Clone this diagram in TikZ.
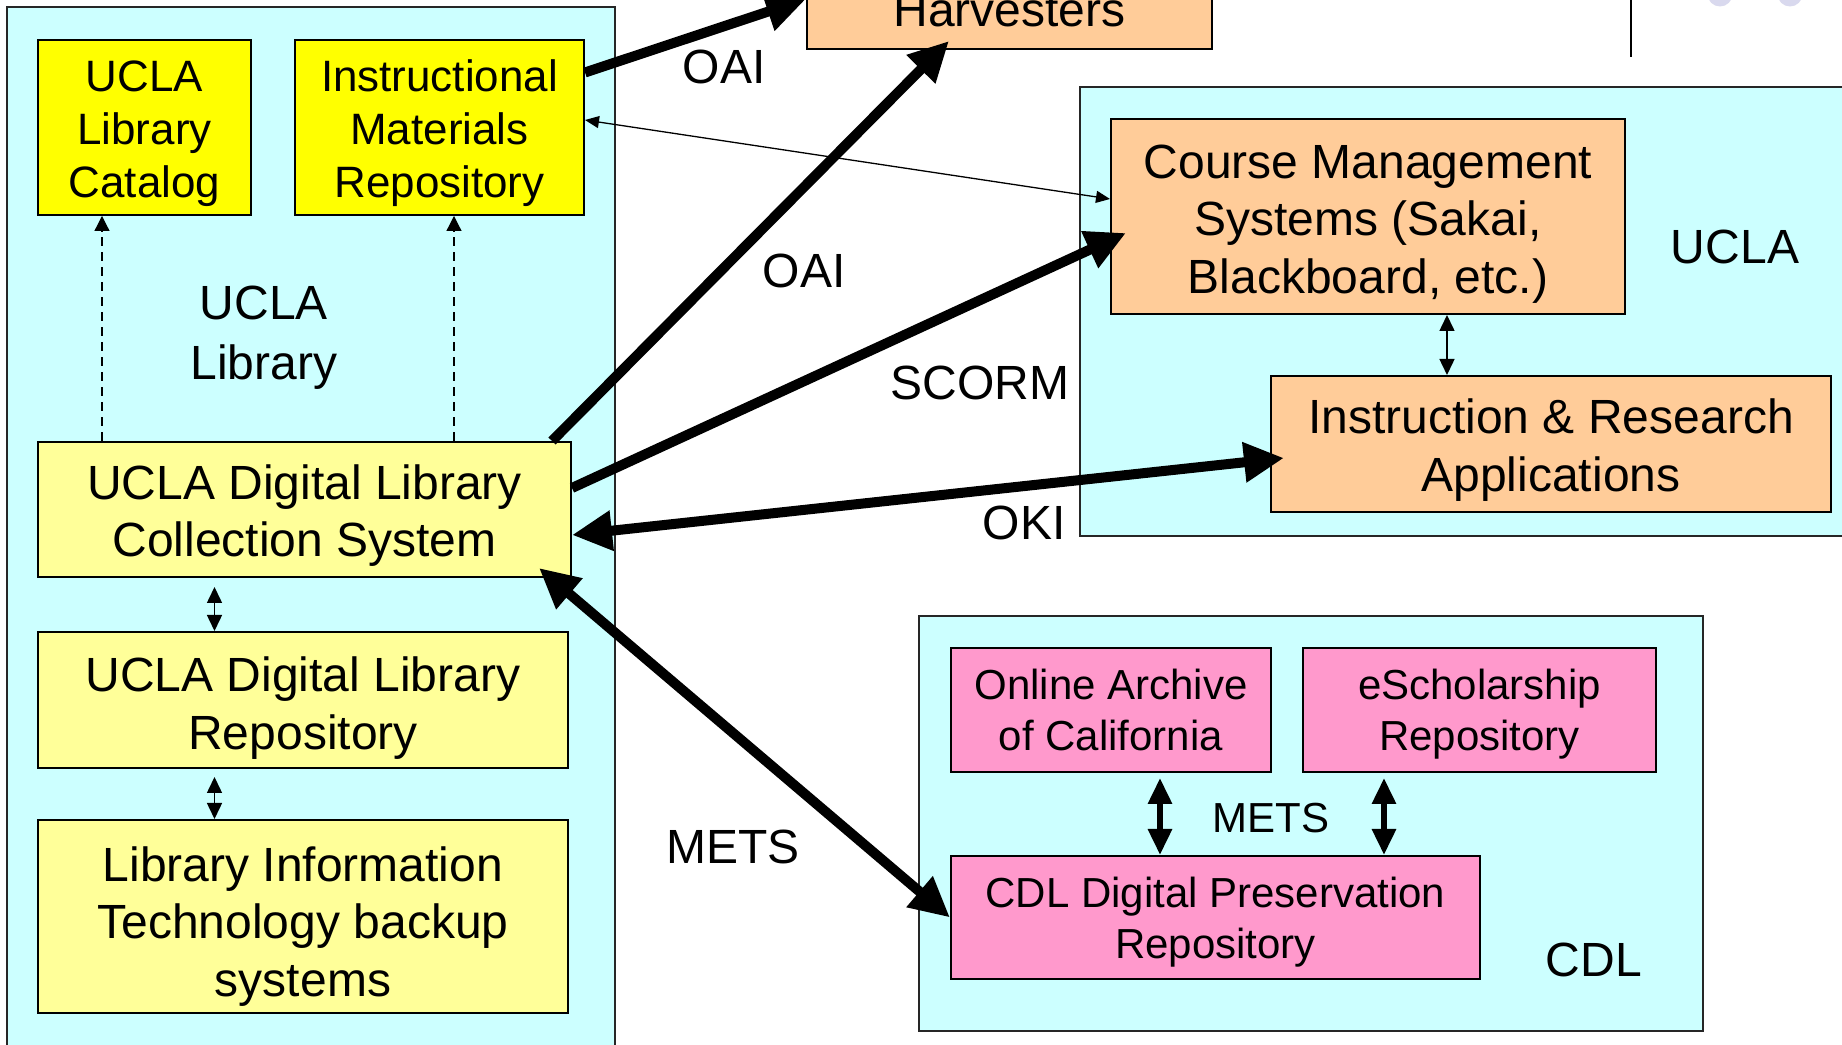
\documentclass[tikz,border=0pt]{standalone}
\usepackage{fontspec}
\setmainfont{Liberation Sans}
\usetikzlibrary{arrows.meta}
\definecolor{cyanbg}{HTML}{CCFFFF}
\definecolor{ybright}{HTML}{FFFF00}
\definecolor{ypale}{HTML}{FFFF99}
\definecolor{orng}{HTML}{FFCC99}
\definecolor{pnk}{HTML}{FF99CC}
\definecolor{lav}{HTML}{D9D9EE}
\newcommand\fsbig{\fontsize{13.66pt}{16.4pt}\selectfont}
\newcommand\fsmid{\fontsize{12.5pt}{15.1pt}\selectfont}
\newcommand\fssmall{\fontsize{11.95pt}{14.5pt}\selectfont}
\newcommand\fslab{\fontsize{13.66pt}{17.1pt}\selectfont}
\tikzset{
  box/.style={draw=black, line width=0.2mm, inner sep=0pt},
  brightbox/.style={box, fill=ybright},
  palebox/.style={box, fill=ypale},
  orbox/.style={box, fill=orng},
  pkbox/.style={box, fill=pnk},
  btxt/.style={align=center, inner sep=0pt, font=\fsbig},
  mtxt/.style={align=center, inner sep=0pt, font=\fsmid},
  stxt/.style={align=center, inner sep=0pt, font=\fssmall},
  cont/.style={draw=black!85, line width=0.2mm, fill=cyanbg},
  lab/.style={font=\fslab, align=center, inner sep=0pt},
  thickarr/.style={line width=1mm, -{Triangle[length=4mm,width=3.8mm]}},
  thickdbl/.style={line width=1mm, {Triangle[length=4mm,width=3.8mm]}-{Triangle[length=4mm,width=3.8mm]}},
  middbl/.style={line width=0.6mm, {Triangle[length=2.6mm,width=2.3mm]}-{Triangle[length=2.6mm,width=2.3mm]}},
  thindbl/.style={line width=0.15mm, {Triangle[length=1.6mm,width=1.5mm]}-{Triangle[length=1.6mm,width=1.5mm]}},
  dasharr/.style={line width=0.12mm, dash pattern=on 0.9mm off 0.6mm, -{Triangle[length=1.5mm,width=1.5mm]}}
}
\begin{document}
\begin{tikzpicture}[x=0.1mm,y=-0.1mm]
\useasboundingbox (0,0) rectangle (1842,1045);
\clip (0,0) rectangle (1842,1045);
\fill[white] (0,0) rectangle (1842,1045);

% decorative top-right marks
\draw[line width=0.25mm] (1631,0) -- (1631,57);
\fill[lav] (1720,-6) circle (12.5);
\fill[lav] (1790,-6) circle (12.5);

% containers
\draw[cont] (7,7) rectangle (615,1100);
\draw[cont] (1080,87) rectangle (1900,536);
\draw[cont] (919,616) rectangle (1703,1031);

% UCLA Library boxes
\node[brightbox, minimum width=21.3mm, minimum height=17.5mm] (cat) at (144.5,127.5) {};
\node[mtxt] (catt) at (144.5,133.5) {UCLA\\Library\\Catalog};
\node[brightbox, minimum width=28.9mm, minimum height=17.5mm] (imr) at (439.5,127.5) {};
\node[mtxt] (imrt) at (439.5,133.5) {Instructional\\Materials\\Repository};
\node[palebox, minimum width=53.3mm, minimum height=13.5mm] (coll) at (304.5,509.5) {};
\node[btxt] (collt) at (304.5,515.5) {UCLA Digital Library\\Collection System};
\node[palebox, minimum width=53mm, minimum height=13.6mm] (repo) at (303,700) {};
\node[btxt] (repot) at (303,708) {UCLA Digital Library\\Repository};
\node[palebox, minimum width=53mm, minimum height=19.3mm] (itb) at (303,916.5) {};
\node[btxt] (itbt) at (303,926.5) {Library Information\\Technology backup\\systems};
\node[lab] (ulib) at (264,338) {UCLA\\Library};

% Harvesters
\node[orbox, minimum width=40.5mm, minimum height=15mm] (harv) at (1009.5,-26) {};
\node[lab, anchor=base] (harvt) at (1009.5,27) {Harvesters};

% UCLA right
\node[orbox, minimum width=51.4mm, minimum height=19.5mm] (cms) at (1368,216.5) {};
\node[btxt] (cmst) at (1368,224) {Course Management\\Systems (Sakai,\\Blackboard, etc.)};
\node[orbox, minimum width=56mm, minimum height=13.6mm] (ira) at (1551,444) {};
\node[btxt] (irat) at (1551,450) {Instruction \& Research\\Applications};
\node[lab] (uclal) at (1735,246.5) {UCLA};

% CDL
\node[pkbox, minimum width=32mm, minimum height=12.4mm] (oac) at (1111,710) {};
\node[stxt] (oact) at (1111,710) {Online Archive\\of California};
\node[pkbox, minimum width=35.3mm, minimum height=12.4mm] (esch) at (1479.5,710) {};
\node[stxt] (escht) at (1479.5,714) {eScholarship\\Repository};
\node[pkbox, minimum width=52.9mm, minimum height=12.3mm] (dpr) at (1215.5,917.5) {};
\node[stxt] (dprt) at (1215.5,922.5) {CDL Digital Preservation\\Repository};
\node[lab] (cdll) at (1594,959.5) {CDL};
\node[lab, font=\fssmall] (metsin) at (1271,818) {METS};

% connector labels
\node[lab] (oai1) at (724,66.5) {OAI};
\node[lab] (oai2) at (804,270.5) {OAI};
\node[lab] (scorm) at (980,382.5) {SCORM};
\node[lab] (oki) at (1024,522.5) {OKI};
\node[lab] (mets) at (733,846.5) {METS};

% dashed arrows
\draw[dasharr] ([xshift=6.5mm]cat.south west |- coll.north) -- ([xshift=6.5mm]cat.south west);
\draw[dasharr] ([xshift=16mm]imr.south west |- coll.north) -- ([xshift=16mm]imr.south west);

% small double arrows
\draw[thindbl, shorten <=0.9mm] ([xshift=17.75mm]coll.south west) -- ([xshift=17.75mm]coll.south west |- repo.north);
\draw[thindbl, shorten <=0.8mm] ([xshift=17.75mm]repo.south west) -- ([xshift=17.75mm]repo.south west |- itb.north);
\draw[thindbl] ([xshift=7.9mm]cms.south) -- ([xshift=7.9mm]cms.south |- ira.north);
\draw[middbl, shorten <=0.5mm] ([xshift=4.9mm]oac.south) -- ([xshift=4.9mm]oac.south |- dpr.north);
\draw[middbl, shorten <=0.5mm] ([xshift=8.2mm]esch.south west) -- ([xshift=8.2mm]esch.south west |- dpr.north);

% thin IMR <-> CMS
\draw[line width=0.13mm, {Triangle[length=1.4mm,width=1.2mm]}-{Triangle[length=1.4mm,width=1.2mm]}]
  ([yshift=0.75mm]imr.east) -- ([yshift=1.75mm]cms.west);

% thick arrows
\draw[thickarr] ([yshift=5.5mm]imr.east) -- ([yshift=5.1mm]harv.south west);
\draw[thickarr] ([xshift=-2mm]coll.north east) -- ([xshift=14.3mm,yshift=0.9mm]harv.south west);
\draw[thickarr] ([yshift=2.15mm]coll.east) -- ([xshift=1.6mm,yshift=-1.65mm]cms.west);
\draw[thickdbl] ([yshift=-2.55mm]coll.east) -- ([xshift=1.4mm,yshift=-1.4mm]ira.west);
\draw[thickdbl] ([xshift=-3.3mm,yshift=1mm]coll.south east) -- (dpr.west);
\end{tikzpicture}
\end{document}
